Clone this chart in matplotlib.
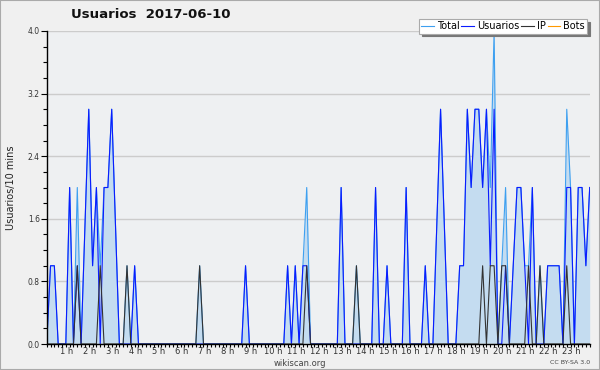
import numpy as np
import matplotlib
matplotlib.use("Agg")
import matplotlib.pyplot as plt
from matplotlib.transforms import ScaledTranslation

# one value per 10 minutes, 00:00 .. 23:40
usuarios = [0, 1, 1, 0, 0, 0, 2, 0, 1, 0, 1.5, 3,
            1, 2, 0, 2, 2, 3, 1.5, 0, 0, 0, 0, 1,
            0, 0, 0, 0, 0, 0, 0, 0, 0, 0, 0, 0,
            0, 0, 0, 0, 0, 0, 0, 0, 0, 0, 0, 0,
            0, 0, 0, 0, 1, 0, 0, 0, 0, 0, 0, 0,
            0, 0, 0, 1, 0, 1, 0, 1, 1, 0, 0, 0,
            0, 0, 0, 0, 0, 2, 0, 0, 0, 0, 0, 0,
            0, 0, 2, 0, 0, 1, 0, 0, 0, 0, 2, 0,
            0, 0, 0, 1, 0, 0, 1.5, 3, 1.5, 0, 0, 0,
            1, 1, 3, 2, 3, 3, 2, 3, 1, 3, 0, 0,
            1, 0, 1, 2, 2, 1, 0, 2, 0, 0, 0, 1,
            1, 1, 1, 0, 2, 2, 0, 2, 2, 1, 2]

ip = [0, 0, 0, 0, 0, 0, 0, 0, 1, 0, 0, 0,
      0, 0, 1, 0, 0, 0, 0, 0, 0, 1, 0, 0,
      0, 0, 0, 0, 0, 0, 0, 0, 0, 0, 0, 0,
      0, 0, 0, 0, 1, 0, 0, 0, 0, 0, 0, 0,
      0, 0, 0, 0, 0, 0, 0, 0, 0, 0, 0, 0,
      0, 0, 0, 0, 0, 0, 0, 0, 1, 0, 0, 0,
      0, 0, 0, 0, 0, 0, 0, 0, 0, 1, 0, 0,
      0, 0, 0, 0, 0, 0, 0, 0, 0, 0, 0, 0,
      0, 0, 0, 0, 0, 0, 0, 0, 0, 0, 0, 0,
      0, 0, 0, 0, 0, 0, 1, 0, 1, 1, 0, 1,
      1, 0, 0, 0, 0, 0, 1, 0, 0, 1, 0, 0,
      0, 0, 0, 0, 1, 0, 0, 0, 0, 0, 0]

total = [0, 1, 1, 0, 0, 0, 2, 0, 2, 0, 1.5, 3,
         1, 2, 1, 2, 2, 3, 1.5, 0, 0, 1, 0, 1,
         0, 0, 0, 0, 0, 0, 0, 0, 0, 0, 0, 0,
         0, 0, 0, 0, 1, 0, 0, 0, 0, 0, 0, 0,
         0, 0, 0, 0, 1, 0, 0, 0, 0, 0, 0, 0,
         0, 0, 0, 1, 0, 1, 0, 1, 2, 0, 0, 0,
         0, 0, 0, 0, 0, 2, 0, 0, 0, 1, 0, 0,
         0, 0, 2, 0, 0, 1, 0, 0, 0, 0, 2, 0,
         0, 0, 0, 1, 0, 0, 1.5, 3, 1.5, 0, 0, 0,
         1, 1, 3, 2, 3, 3, 2, 3, 2, 4, 0, 1,
         2, 0, 1, 2, 2, 1, 1, 2, 0, 1, 0, 1,
         1, 1, 1, 0, 3, 2, 0, 2, 2, 1, 2]

bots = [0] * 143

hour_labels = ["%d h" % h for h in range(1, 24)]
yticks = [0.0, 0.8, 1.6, 2.4, 3.2, 4.0]

x = np.arange(len(total))

fig = plt.figure(figsize=(6, 3.7), dpi=100, facecolor="#f0f0f0")
ax = fig.add_axes([46.7 / 600, 26 / 370, 543 / 600, 313 / 370])
ax.set_facecolor("#eef0f2")

ax.fill_between(x, total, color="#c4dcf0", lw=0, zorder=1)
ax.plot(x, total, color="#3ea0f0", lw=0.8, label="Total", zorder=3)
ax.plot(x, usuarios, color="#0a1cff", lw=0.8, label="Usuarios", zorder=4)
ax.plot(x, ip, color="#333333", lw=0.8, label="IP", zorder=5)
ax.plot(x, bots, color="#ff9900", lw=0.8, label="Bots", zorder=2)

ax.set_xlim(0, len(total) - 1)
ax.set_ylim(0, 4.0)
ax.set_yticks(yticks)
ax.set_yticklabels(["%.1f" % v for v in yticks])
ax.set_yticks(np.arange(0, 4.01, 0.2), minor=True)
ax.set_xticks(np.arange(6, len(total), 6))
ax.set_xticklabels(hour_labels)
ax.set_xticks(x, minor=True)
ax.grid(axis="y", color="#cccccc", lw=1)
ax.set_axisbelow(True)

for s in ["top", "right"]:
    ax.spines[s].set_visible(False)
for s in ["left", "bottom"]:
    ax.spines[s].set_color("#000000")
    ax.spines[s].set_linewidth(1)
    ax.spines[s].set_zorder(6)

ax.tick_params(axis="y", which="major", length=4, width=0.8, labelsize=5.5, pad=1, colors="#000000", labelcolor="#333333")
ax.tick_params(axis="y", which="minor", length=3, width=0.8)
ax.tick_params(axis="x", which="major", length=2.5, width=0.8, labelsize=6, pad=0, labelcolor="#333333")
ax.tick_params(axis="x", which="minor", length=2.5, width=0.8)

# hour labels sit a little left of their tick in the original
shift = ScaledTranslation(-3 / 100, 0, fig.dpi_scale_trans)
for lab in ax.get_xticklabels():
    lab.set_transform(lab.get_transform() + shift)

fig.text(151 / 600, 1 - 15 / 370, "Usuarios  2017-06-10", ha="center", va="center",
         fontsize=9.5, fontweight="bold", color="#111111")
fig.text(11 / 600, 1 - 188 / 370, "Usuarios/10 mins", rotation=90, ha="center", va="center",
         fontsize=7, color="#222222")
fig.text(300 / 600, 1 - 363 / 370, "wikiscan.org", ha="center", va="center",
         fontsize=6, color="#444444")
fig.text(590 / 600, 1 - 363 / 370, "CC BY-SA 3.0", ha="right", va="center",
         fontsize=4.5, color="#444444")

leg = fig.legend(loc="upper right", bbox_to_anchor=(592 / 600, 1 - 14 / 370), ncol=4,
                 fontsize=7, handlelength=1.3, handletextpad=0.3, columnspacing=0.2,
                 borderpad=0.25, fancybox=False, framealpha=1, edgecolor="#aaaaaa",
                 shadow={"color": "#777777", "alpha": 1})
leg.get_frame().set_linewidth(0.8)

fig.patches.append(plt.Rectangle((0, 0), 1, 1, transform=fig.transFigure, fill=False,
                                 edgecolor="#aaaaaa", lw=1.5))

fig.savefig("out.png", dpi=100, facecolor=fig.get_facecolor())
